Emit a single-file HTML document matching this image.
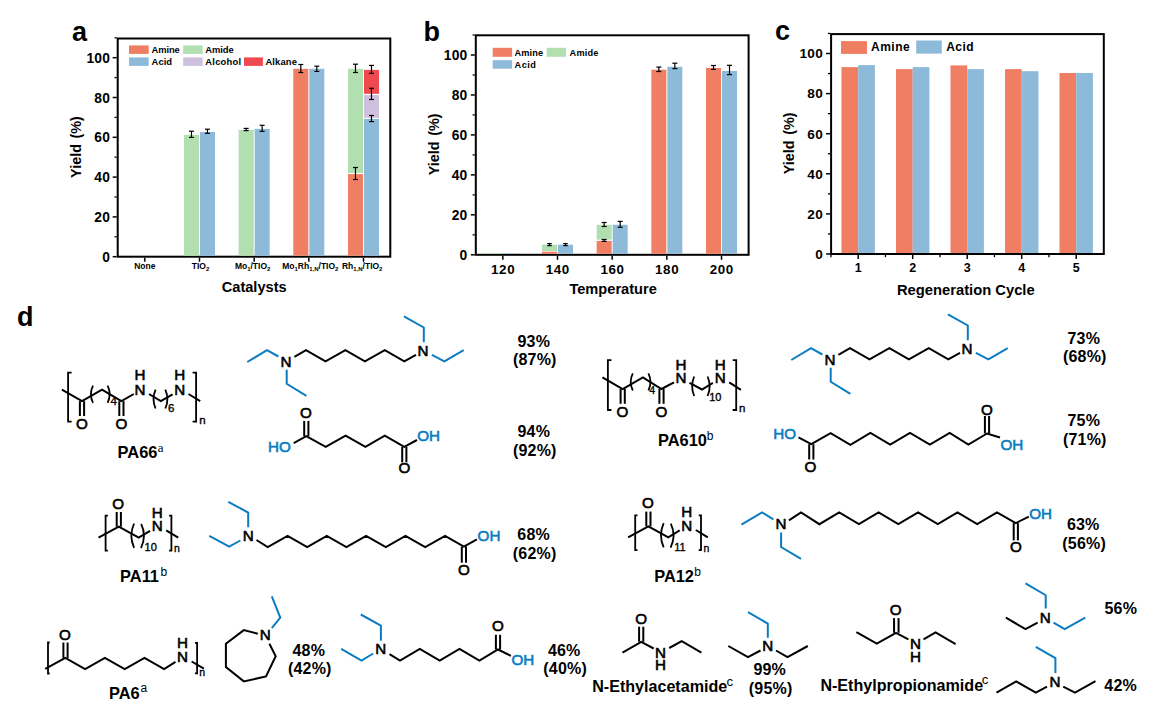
<!DOCTYPE html>
<html><head><meta charset="utf-8"><style>
html,body{margin:0;padding:0;background:#fff;}
svg{display:block;font-family:'Liberation Sans', sans-serif;}
</style></head><body>
<svg width="1157" height="707" viewBox="0 0 1157 707">
<rect x="0" y="0" width="1157" height="707" fill="#fff"/>
<text x="72.00" y="41.00" font-size="27" font-weight="bold" text-anchor="start" fill="#000" >a</text>
<text x="423.50" y="41.00" font-size="27" font-weight="bold" text-anchor="start" fill="#000" >b</text>
<text x="775.00" y="40.40" font-size="27" font-weight="bold" text-anchor="start" fill="#000" >c</text>
<text x="17.00" y="326.00" font-size="27" font-weight="bold" text-anchor="start" fill="#000" >d</text>
<rect x="117.70" y="38.50" width="272.60" height="218.20" fill="none" stroke="#000" stroke-width="2.0"/>
<line x1="112.70" y1="256.70" x2="116.70" y2="256.70" stroke="#000" stroke-width="1.5" stroke-linecap="butt"/>
<line x1="112.70" y1="216.90" x2="116.70" y2="216.90" stroke="#000" stroke-width="1.5" stroke-linecap="butt"/>
<line x1="112.70" y1="177.10" x2="116.70" y2="177.10" stroke="#000" stroke-width="1.5" stroke-linecap="butt"/>
<line x1="112.70" y1="137.30" x2="116.70" y2="137.30" stroke="#000" stroke-width="1.5" stroke-linecap="butt"/>
<line x1="112.70" y1="97.50" x2="116.70" y2="97.50" stroke="#000" stroke-width="1.5" stroke-linecap="butt"/>
<line x1="112.70" y1="57.70" x2="116.70" y2="57.70" stroke="#000" stroke-width="1.5" stroke-linecap="butt"/>
<line x1="114.50" y1="236.80" x2="116.70" y2="236.80" stroke="#000" stroke-width="1.3" stroke-linecap="butt"/>
<line x1="114.50" y1="197.00" x2="116.70" y2="197.00" stroke="#000" stroke-width="1.3" stroke-linecap="butt"/>
<line x1="114.50" y1="157.20" x2="116.70" y2="157.20" stroke="#000" stroke-width="1.3" stroke-linecap="butt"/>
<line x1="114.50" y1="117.40" x2="116.70" y2="117.40" stroke="#000" stroke-width="1.3" stroke-linecap="butt"/>
<line x1="114.50" y1="77.60" x2="116.70" y2="77.60" stroke="#000" stroke-width="1.3" stroke-linecap="butt"/>
<line x1="114.50" y1="37.80" x2="116.70" y2="37.80" stroke="#000" stroke-width="1.3" stroke-linecap="butt"/>
<line x1="144.80" y1="257.70" x2="144.80" y2="261.70" stroke="#000" stroke-width="1.5" stroke-linecap="butt"/>
<line x1="199.47" y1="257.70" x2="199.47" y2="261.70" stroke="#000" stroke-width="1.5" stroke-linecap="butt"/>
<line x1="254.14" y1="257.70" x2="254.14" y2="261.70" stroke="#000" stroke-width="1.5" stroke-linecap="butt"/>
<line x1="308.81" y1="257.70" x2="308.81" y2="261.70" stroke="#000" stroke-width="1.5" stroke-linecap="butt"/>
<line x1="363.48" y1="257.70" x2="363.48" y2="261.70" stroke="#000" stroke-width="1.5" stroke-linecap="butt"/>
<text x="110.30" y="261.70" font-size="13.8" font-weight="bold" text-anchor="end" fill="#000" letter-spacing="0.3">0</text>
<text x="110.30" y="221.90" font-size="13.8" font-weight="bold" text-anchor="end" fill="#000" letter-spacing="0.3">20</text>
<text x="110.30" y="182.10" font-size="13.8" font-weight="bold" text-anchor="end" fill="#000" letter-spacing="0.3">40</text>
<text x="110.30" y="142.30" font-size="13.8" font-weight="bold" text-anchor="end" fill="#000" letter-spacing="0.3">60</text>
<text x="110.30" y="102.50" font-size="13.8" font-weight="bold" text-anchor="end" fill="#000" letter-spacing="0.3">80</text>
<text x="110.30" y="62.70" font-size="13.8" font-weight="bold" text-anchor="end" fill="#000" letter-spacing="0.3">100</text>
<rect x="183.97" y="134.90" width="15.00" height="120.80" fill="#B1DFB0"/>
<rect x="199.97" y="132.00" width="15.00" height="123.70" fill="#8EBADA"/>
<rect x="238.64" y="129.90" width="15.00" height="125.80" fill="#B1DFB0"/>
<rect x="254.64" y="128.90" width="15.00" height="126.80" fill="#8EBADA"/>
<rect x="293.31" y="68.80" width="15.00" height="186.90" fill="#F07E62"/>
<rect x="309.31" y="68.80" width="15.00" height="186.90" fill="#8EBADA"/>
<rect x="347.98" y="174.10" width="15.00" height="81.60" fill="#F07E62"/>
<rect x="347.98" y="68.80" width="15.00" height="104.20" fill="#B1DFB0"/>
<rect x="363.98" y="118.90" width="15.00" height="136.80" fill="#8EBADA"/>
<rect x="363.98" y="95.10" width="15.00" height="22.70" fill="#CFC0DD"/>
<rect x="363.98" y="69.90" width="15.00" height="23.90" fill="#F04A51"/>
<line x1="191.47" y1="131.20" x2="191.47" y2="137.40" stroke="#000" stroke-width="1.2" stroke-linecap="butt"/>
<line x1="188.97" y1="131.20" x2="193.97" y2="131.20" stroke="#000" stroke-width="1.2" stroke-linecap="butt"/>
<line x1="188.97" y1="137.40" x2="193.97" y2="137.40" stroke="#000" stroke-width="1.2" stroke-linecap="butt"/>
<line x1="207.47" y1="129.20" x2="207.47" y2="133.30" stroke="#000" stroke-width="1.2" stroke-linecap="butt"/>
<line x1="204.97" y1="129.20" x2="209.97" y2="129.20" stroke="#000" stroke-width="1.2" stroke-linecap="butt"/>
<line x1="204.97" y1="133.30" x2="209.97" y2="133.30" stroke="#000" stroke-width="1.2" stroke-linecap="butt"/>
<line x1="246.14" y1="128.40" x2="246.14" y2="130.60" stroke="#000" stroke-width="1.2" stroke-linecap="butt"/>
<line x1="243.64" y1="128.40" x2="248.64" y2="128.40" stroke="#000" stroke-width="1.2" stroke-linecap="butt"/>
<line x1="243.64" y1="130.60" x2="248.64" y2="130.60" stroke="#000" stroke-width="1.2" stroke-linecap="butt"/>
<line x1="262.14" y1="125.30" x2="262.14" y2="131.40" stroke="#000" stroke-width="1.2" stroke-linecap="butt"/>
<line x1="259.64" y1="125.30" x2="264.64" y2="125.30" stroke="#000" stroke-width="1.2" stroke-linecap="butt"/>
<line x1="259.64" y1="131.40" x2="264.64" y2="131.40" stroke="#000" stroke-width="1.2" stroke-linecap="butt"/>
<line x1="300.81" y1="64.50" x2="300.81" y2="72.50" stroke="#000" stroke-width="1.2" stroke-linecap="butt"/>
<line x1="298.31" y1="64.50" x2="303.31" y2="64.50" stroke="#000" stroke-width="1.2" stroke-linecap="butt"/>
<line x1="298.31" y1="72.50" x2="303.31" y2="72.50" stroke="#000" stroke-width="1.2" stroke-linecap="butt"/>
<line x1="316.81" y1="66.20" x2="316.81" y2="71.40" stroke="#000" stroke-width="1.2" stroke-linecap="butt"/>
<line x1="314.31" y1="66.20" x2="319.31" y2="66.20" stroke="#000" stroke-width="1.2" stroke-linecap="butt"/>
<line x1="314.31" y1="71.40" x2="319.31" y2="71.40" stroke="#000" stroke-width="1.2" stroke-linecap="butt"/>
<line x1="355.48" y1="64.20" x2="355.48" y2="72.50" stroke="#000" stroke-width="1.2" stroke-linecap="butt"/>
<line x1="352.98" y1="64.20" x2="357.98" y2="64.20" stroke="#000" stroke-width="1.2" stroke-linecap="butt"/>
<line x1="352.98" y1="72.50" x2="357.98" y2="72.50" stroke="#000" stroke-width="1.2" stroke-linecap="butt"/>
<line x1="371.48" y1="65.40" x2="371.48" y2="73.40" stroke="#000" stroke-width="1.2" stroke-linecap="butt"/>
<line x1="368.98" y1="65.40" x2="373.98" y2="65.40" stroke="#000" stroke-width="1.2" stroke-linecap="butt"/>
<line x1="368.98" y1="73.40" x2="373.98" y2="73.40" stroke="#000" stroke-width="1.2" stroke-linecap="butt"/>
<line x1="371.48" y1="88.30" x2="371.48" y2="99.50" stroke="#000" stroke-width="1.2" stroke-linecap="butt"/>
<line x1="368.98" y1="88.30" x2="373.98" y2="88.30" stroke="#000" stroke-width="1.2" stroke-linecap="butt"/>
<line x1="368.98" y1="99.50" x2="373.98" y2="99.50" stroke="#000" stroke-width="1.2" stroke-linecap="butt"/>
<line x1="371.48" y1="115.50" x2="371.48" y2="121.60" stroke="#000" stroke-width="1.2" stroke-linecap="butt"/>
<line x1="368.98" y1="115.50" x2="373.98" y2="115.50" stroke="#000" stroke-width="1.2" stroke-linecap="butt"/>
<line x1="368.98" y1="121.60" x2="373.98" y2="121.60" stroke="#000" stroke-width="1.2" stroke-linecap="butt"/>
<line x1="355.48" y1="167.50" x2="355.48" y2="179.50" stroke="#000" stroke-width="1.2" stroke-linecap="butt"/>
<line x1="352.98" y1="167.50" x2="357.98" y2="167.50" stroke="#000" stroke-width="1.2" stroke-linecap="butt"/>
<line x1="352.98" y1="179.50" x2="357.98" y2="179.50" stroke="#000" stroke-width="1.2" stroke-linecap="butt"/>
<rect x="129.00" y="45.40" width="19.70" height="8.50" fill="#F07E62"/>
<text x="151.60" y="53.20" font-size="9.4" font-weight="bold" text-anchor="start" fill="#000" textLength="28.2" lengthAdjust="spacing">Amine</text>
<rect x="183.20" y="45.40" width="19.40" height="8.50" fill="#B1DFB0"/>
<text x="205.30" y="53.20" font-size="9.4" font-weight="bold" text-anchor="start" fill="#000" textLength="28.4" lengthAdjust="spacing">Amide</text>
<rect x="129.00" y="57.40" width="19.70" height="8.50" fill="#8EBADA"/>
<text x="151.60" y="65.20" font-size="9.4" font-weight="bold" text-anchor="start" fill="#000" textLength="20.5" lengthAdjust="spacing">Acid</text>
<rect x="183.20" y="57.40" width="19.40" height="8.50" fill="#CFC0DD"/>
<text x="205.30" y="65.20" font-size="9.4" font-weight="bold" text-anchor="start" fill="#000" textLength="35.8" lengthAdjust="spacing">Alcohol</text>
<rect x="244.00" y="57.40" width="18.90" height="8.50" fill="#F04A51"/>
<text x="265.40" y="65.20" font-size="9.4" font-weight="bold" text-anchor="start" fill="#000" textLength="31.5" lengthAdjust="spacing">Alkane</text>
<text x="144.80" y="268.9" font-size="8.5" font-weight="bold" text-anchor="middle" fill="#000">None</text>
<text x="200.47" y="268.9" font-size="8.5" font-weight="bold" text-anchor="middle" fill="#000">TIO<tspan font-size="6" dy="2">2</tspan></text>
<text x="252.64" y="268.9" font-size="8.5" font-weight="bold" text-anchor="middle" fill="#000">Mo<tspan font-size="6" dy="2">1</tspan><tspan dy="-2">/TIO</tspan><tspan font-size="6" dy="2">2</tspan></text>
<text x="310.31" y="268.9" font-size="8.5" font-weight="bold" text-anchor="middle" fill="#000">Mo<tspan font-size="6" dy="2">1</tspan><tspan dy="-2">Rh</tspan><tspan font-size="6" dy="2">1,N</tspan><tspan dy="-2">/TIO</tspan><tspan font-size="6" dy="2">2</tspan></text>
<text x="362.18" y="268.9" font-size="8.5" font-weight="bold" text-anchor="middle" fill="#000">Rh<tspan font-size="6" dy="2">1,N</tspan><tspan dy="-2">/TIO</tspan><tspan font-size="6" dy="2">2</tspan></text>
<text x="254.20" y="291.90" font-size="14.6" font-weight="bold" text-anchor="middle" fill="#000" >Catalysts</text>
<text transform="translate(81.3,147.0) rotate(-90)" x="0" y="0" font-size="14.4" word-spacing="1.6" font-weight="bold" text-anchor="middle" fill="#000">Yield (%)</text>
<rect x="475.80" y="35.30" width="272.80" height="219.50" fill="none" stroke="#000" stroke-width="2.0"/>
<line x1="470.80" y1="254.80" x2="474.80" y2="254.80" stroke="#000" stroke-width="1.5" stroke-linecap="butt"/>
<line x1="470.80" y1="214.84" x2="474.80" y2="214.84" stroke="#000" stroke-width="1.5" stroke-linecap="butt"/>
<line x1="470.80" y1="174.88" x2="474.80" y2="174.88" stroke="#000" stroke-width="1.5" stroke-linecap="butt"/>
<line x1="470.80" y1="134.92" x2="474.80" y2="134.92" stroke="#000" stroke-width="1.5" stroke-linecap="butt"/>
<line x1="470.80" y1="94.96" x2="474.80" y2="94.96" stroke="#000" stroke-width="1.5" stroke-linecap="butt"/>
<line x1="470.80" y1="55.00" x2="474.80" y2="55.00" stroke="#000" stroke-width="1.5" stroke-linecap="butt"/>
<line x1="472.60" y1="234.82" x2="474.80" y2="234.82" stroke="#000" stroke-width="1.3" stroke-linecap="butt"/>
<line x1="472.60" y1="194.86" x2="474.80" y2="194.86" stroke="#000" stroke-width="1.3" stroke-linecap="butt"/>
<line x1="472.60" y1="154.90" x2="474.80" y2="154.90" stroke="#000" stroke-width="1.3" stroke-linecap="butt"/>
<line x1="472.60" y1="114.94" x2="474.80" y2="114.94" stroke="#000" stroke-width="1.3" stroke-linecap="butt"/>
<line x1="472.60" y1="74.98" x2="474.80" y2="74.98" stroke="#000" stroke-width="1.3" stroke-linecap="butt"/>
<line x1="472.60" y1="35.02" x2="474.80" y2="35.02" stroke="#000" stroke-width="1.3" stroke-linecap="butt"/>
<line x1="502.83" y1="255.80" x2="502.83" y2="259.80" stroke="#000" stroke-width="1.5" stroke-linecap="butt"/>
<line x1="557.50" y1="255.80" x2="557.50" y2="259.80" stroke="#000" stroke-width="1.5" stroke-linecap="butt"/>
<line x1="612.17" y1="255.80" x2="612.17" y2="259.80" stroke="#000" stroke-width="1.5" stroke-linecap="butt"/>
<line x1="666.84" y1="255.80" x2="666.84" y2="259.80" stroke="#000" stroke-width="1.5" stroke-linecap="butt"/>
<line x1="721.51" y1="255.80" x2="721.51" y2="259.80" stroke="#000" stroke-width="1.5" stroke-linecap="butt"/>
<text x="467.60" y="259.80" font-size="13.8" font-weight="bold" text-anchor="end" fill="#000" letter-spacing="0.3">0</text>
<text x="467.60" y="219.84" font-size="13.8" font-weight="bold" text-anchor="end" fill="#000" letter-spacing="0.3">20</text>
<text x="467.60" y="179.88" font-size="13.8" font-weight="bold" text-anchor="end" fill="#000" letter-spacing="0.3">40</text>
<text x="467.60" y="139.92" font-size="13.8" font-weight="bold" text-anchor="end" fill="#000" letter-spacing="0.3">60</text>
<text x="467.60" y="99.96" font-size="13.8" font-weight="bold" text-anchor="end" fill="#000" letter-spacing="0.3">80</text>
<text x="467.60" y="60.00" font-size="13.8" font-weight="bold" text-anchor="end" fill="#000" letter-spacing="0.3">100</text>
<rect x="487.33" y="253.00" width="15.00" height="0.80" fill="#B1DFB0"/>
<rect x="503.33" y="253.20" width="15.00" height="0.60" fill="#8EBADA"/>
<rect x="542.00" y="251.70" width="15.00" height="2.10" fill="#F07E62"/>
<rect x="542.00" y="244.70" width="15.00" height="6.30" fill="#B1DFB0"/>
<rect x="558.00" y="244.70" width="15.00" height="9.10" fill="#8EBADA"/>
<rect x="596.67" y="240.90" width="15.00" height="12.90" fill="#F07E62"/>
<rect x="596.67" y="224.80" width="15.00" height="14.90" fill="#B1DFB0"/>
<rect x="612.67" y="224.80" width="15.00" height="29.00" fill="#8EBADA"/>
<rect x="651.34" y="69.70" width="15.00" height="184.10" fill="#F07E62"/>
<rect x="667.34" y="66.80" width="15.00" height="187.00" fill="#8EBADA"/>
<rect x="706.01" y="67.90" width="15.00" height="185.90" fill="#F07E62"/>
<rect x="722.01" y="71.00" width="15.00" height="182.80" fill="#8EBADA"/>
<line x1="549.50" y1="243.60" x2="549.50" y2="245.60" stroke="#000" stroke-width="1.2" stroke-linecap="butt"/>
<line x1="547.25" y1="243.60" x2="551.75" y2="243.60" stroke="#000" stroke-width="1.2" stroke-linecap="butt"/>
<line x1="547.25" y1="245.60" x2="551.75" y2="245.60" stroke="#000" stroke-width="1.2" stroke-linecap="butt"/>
<line x1="565.50" y1="243.60" x2="565.50" y2="245.60" stroke="#000" stroke-width="1.2" stroke-linecap="butt"/>
<line x1="563.25" y1="243.60" x2="567.75" y2="243.60" stroke="#000" stroke-width="1.2" stroke-linecap="butt"/>
<line x1="563.25" y1="245.60" x2="567.75" y2="245.60" stroke="#000" stroke-width="1.2" stroke-linecap="butt"/>
<line x1="604.17" y1="222.50" x2="604.17" y2="226.50" stroke="#000" stroke-width="1.2" stroke-linecap="butt"/>
<line x1="601.67" y1="222.50" x2="606.67" y2="222.50" stroke="#000" stroke-width="1.2" stroke-linecap="butt"/>
<line x1="601.67" y1="226.50" x2="606.67" y2="226.50" stroke="#000" stroke-width="1.2" stroke-linecap="butt"/>
<line x1="604.17" y1="239.50" x2="604.17" y2="241.40" stroke="#000" stroke-width="1.2" stroke-linecap="butt"/>
<line x1="601.67" y1="239.50" x2="606.67" y2="239.50" stroke="#000" stroke-width="1.2" stroke-linecap="butt"/>
<line x1="601.67" y1="241.40" x2="606.67" y2="241.40" stroke="#000" stroke-width="1.2" stroke-linecap="butt"/>
<line x1="620.17" y1="221.40" x2="620.17" y2="227.30" stroke="#000" stroke-width="1.2" stroke-linecap="butt"/>
<line x1="617.67" y1="221.40" x2="622.67" y2="221.40" stroke="#000" stroke-width="1.2" stroke-linecap="butt"/>
<line x1="617.67" y1="227.30" x2="622.67" y2="227.30" stroke="#000" stroke-width="1.2" stroke-linecap="butt"/>
<line x1="658.84" y1="67.10" x2="658.84" y2="71.50" stroke="#000" stroke-width="1.2" stroke-linecap="butt"/>
<line x1="656.34" y1="67.10" x2="661.34" y2="67.10" stroke="#000" stroke-width="1.2" stroke-linecap="butt"/>
<line x1="656.34" y1="71.50" x2="661.34" y2="71.50" stroke="#000" stroke-width="1.2" stroke-linecap="butt"/>
<line x1="674.84" y1="63.20" x2="674.84" y2="68.60" stroke="#000" stroke-width="1.2" stroke-linecap="butt"/>
<line x1="672.34" y1="63.20" x2="677.34" y2="63.20" stroke="#000" stroke-width="1.2" stroke-linecap="butt"/>
<line x1="672.34" y1="68.60" x2="677.34" y2="68.60" stroke="#000" stroke-width="1.2" stroke-linecap="butt"/>
<line x1="713.51" y1="65.50" x2="713.51" y2="69.40" stroke="#000" stroke-width="1.2" stroke-linecap="butt"/>
<line x1="711.01" y1="65.50" x2="716.01" y2="65.50" stroke="#000" stroke-width="1.2" stroke-linecap="butt"/>
<line x1="711.01" y1="69.40" x2="716.01" y2="69.40" stroke="#000" stroke-width="1.2" stroke-linecap="butt"/>
<line x1="729.51" y1="65.30" x2="729.51" y2="74.60" stroke="#000" stroke-width="1.2" stroke-linecap="butt"/>
<line x1="727.01" y1="65.30" x2="732.01" y2="65.30" stroke="#000" stroke-width="1.2" stroke-linecap="butt"/>
<line x1="727.01" y1="74.60" x2="732.01" y2="74.60" stroke="#000" stroke-width="1.2" stroke-linecap="butt"/>
<rect x="492.70" y="47.80" width="19.40" height="9.00" fill="#F07E62"/>
<text x="514.60" y="55.80" font-size="9.2" font-weight="bold" text-anchor="start" fill="#000" textLength="28.4" lengthAdjust="spacing">Amine</text>
<rect x="546.70" y="47.80" width="19.40" height="9.00" fill="#B1DFB0"/>
<text x="569.60" y="55.80" font-size="9.2" font-weight="bold" text-anchor="start" fill="#000" textLength="28.7" lengthAdjust="spacing">Amide</text>
<rect x="492.70" y="60.20" width="19.40" height="8.50" fill="#8EBADA"/>
<text x="514.60" y="68.20" font-size="9.2" font-weight="bold" text-anchor="start" fill="#000" textLength="21.3" lengthAdjust="spacing">Acid</text>
<text x="503.13" y="274.00" font-size="13.4" font-weight="bold" text-anchor="middle" fill="#000" letter-spacing="0.6">120</text>
<text x="557.80" y="274.00" font-size="13.4" font-weight="bold" text-anchor="middle" fill="#000" letter-spacing="0.6">140</text>
<text x="612.47" y="274.00" font-size="13.4" font-weight="bold" text-anchor="middle" fill="#000" letter-spacing="0.6">160</text>
<text x="667.14" y="274.00" font-size="13.4" font-weight="bold" text-anchor="middle" fill="#000" letter-spacing="0.6">180</text>
<text x="721.81" y="274.00" font-size="13.4" font-weight="bold" text-anchor="middle" fill="#000" letter-spacing="0.6">200</text>
<text x="613.10" y="293.50" font-size="14.6" font-weight="bold" text-anchor="middle" fill="#000" >Temperature</text>
<text transform="translate(439.4,144.4) rotate(-90)" x="0" y="0" font-size="14.4" word-spacing="1.6" font-weight="bold" text-anchor="middle" fill="#000">Yield (%)</text>
<rect x="831.10" y="34.10" width="272.70" height="219.90" fill="none" stroke="#000" stroke-width="2.0"/>
<line x1="826.10" y1="254.00" x2="830.10" y2="254.00" stroke="#000" stroke-width="1.5" stroke-linecap="butt"/>
<line x1="826.10" y1="213.90" x2="830.10" y2="213.90" stroke="#000" stroke-width="1.5" stroke-linecap="butt"/>
<line x1="826.10" y1="173.80" x2="830.10" y2="173.80" stroke="#000" stroke-width="1.5" stroke-linecap="butt"/>
<line x1="826.10" y1="133.70" x2="830.10" y2="133.70" stroke="#000" stroke-width="1.5" stroke-linecap="butt"/>
<line x1="826.10" y1="93.60" x2="830.10" y2="93.60" stroke="#000" stroke-width="1.5" stroke-linecap="butt"/>
<line x1="826.10" y1="53.50" x2="830.10" y2="53.50" stroke="#000" stroke-width="1.5" stroke-linecap="butt"/>
<line x1="827.90" y1="233.95" x2="830.10" y2="233.95" stroke="#000" stroke-width="1.3" stroke-linecap="butt"/>
<line x1="827.90" y1="193.85" x2="830.10" y2="193.85" stroke="#000" stroke-width="1.3" stroke-linecap="butt"/>
<line x1="827.90" y1="153.75" x2="830.10" y2="153.75" stroke="#000" stroke-width="1.3" stroke-linecap="butt"/>
<line x1="827.90" y1="113.65" x2="830.10" y2="113.65" stroke="#000" stroke-width="1.3" stroke-linecap="butt"/>
<line x1="827.90" y1="73.55" x2="830.10" y2="73.55" stroke="#000" stroke-width="1.3" stroke-linecap="butt"/>
<line x1="827.90" y1="33.45" x2="830.10" y2="33.45" stroke="#000" stroke-width="1.3" stroke-linecap="butt"/>
<line x1="858.20" y1="255.00" x2="858.20" y2="259.00" stroke="#000" stroke-width="1.5" stroke-linecap="butt"/>
<line x1="912.70" y1="255.00" x2="912.70" y2="259.00" stroke="#000" stroke-width="1.5" stroke-linecap="butt"/>
<line x1="967.20" y1="255.00" x2="967.20" y2="259.00" stroke="#000" stroke-width="1.5" stroke-linecap="butt"/>
<line x1="1021.70" y1="255.00" x2="1021.70" y2="259.00" stroke="#000" stroke-width="1.5" stroke-linecap="butt"/>
<line x1="1076.20" y1="255.00" x2="1076.20" y2="259.00" stroke="#000" stroke-width="1.5" stroke-linecap="butt"/>
<line x1="885.45" y1="255.00" x2="885.45" y2="257.20" stroke="#000" stroke-width="1.3" stroke-linecap="butt"/>
<line x1="939.95" y1="255.00" x2="939.95" y2="257.20" stroke="#000" stroke-width="1.3" stroke-linecap="butt"/>
<line x1="994.45" y1="255.00" x2="994.45" y2="257.20" stroke="#000" stroke-width="1.3" stroke-linecap="butt"/>
<line x1="1048.95" y1="255.00" x2="1048.95" y2="257.20" stroke="#000" stroke-width="1.3" stroke-linecap="butt"/>
<line x1="830.95" y1="255.00" x2="830.95" y2="257.20" stroke="#000" stroke-width="1.3" stroke-linecap="butt"/>
<text x="823.00" y="258.80" font-size="13.6" font-weight="bold" text-anchor="end" fill="#000" letter-spacing="0.3">0</text>
<text x="823.00" y="218.70" font-size="13.6" font-weight="bold" text-anchor="end" fill="#000" letter-spacing="0.3">20</text>
<text x="823.00" y="178.60" font-size="13.6" font-weight="bold" text-anchor="end" fill="#000" letter-spacing="0.3">40</text>
<text x="823.00" y="138.50" font-size="13.6" font-weight="bold" text-anchor="end" fill="#000" letter-spacing="0.3">60</text>
<text x="823.00" y="98.40" font-size="13.6" font-weight="bold" text-anchor="end" fill="#000" letter-spacing="0.3">80</text>
<text x="823.00" y="58.30" font-size="13.6" font-weight="bold" text-anchor="end" fill="#000" letter-spacing="0.3">100</text>
<rect x="841.50" y="67.10" width="16.70" height="185.90" fill="#F07E62"/>
<rect x="858.20" y="65.10" width="16.70" height="187.90" fill="#8EBADA"/>
<rect x="896.00" y="69.10" width="16.70" height="183.90" fill="#F07E62"/>
<rect x="912.70" y="67.10" width="16.70" height="185.90" fill="#8EBADA"/>
<rect x="950.50" y="65.40" width="16.70" height="187.60" fill="#F07E62"/>
<rect x="967.20" y="69.10" width="16.70" height="183.90" fill="#8EBADA"/>
<rect x="1005.00" y="69.10" width="16.70" height="183.90" fill="#F07E62"/>
<rect x="1021.70" y="71.20" width="16.70" height="181.80" fill="#8EBADA"/>
<rect x="1059.50" y="73.00" width="16.70" height="180.00" fill="#F07E62"/>
<rect x="1076.20" y="73.00" width="16.70" height="180.00" fill="#8EBADA"/>
<rect x="841.00" y="41.10" width="26.00" height="12.80" fill="#F07E62"/>
<text x="871.00" y="50.80" font-size="12.0" font-weight="bold" text-anchor="start" fill="#000" letter-spacing="0.5">Amine</text>
<rect x="916.20" y="40.50" width="25.60" height="13.10" fill="#8EBADA"/>
<text x="946.20" y="50.80" font-size="12.0" font-weight="bold" text-anchor="start" fill="#000" letter-spacing="0.5">Acid</text>
<text x="858.20" y="271.50" font-size="12.5" font-weight="bold" text-anchor="middle" fill="#000" >1</text>
<text x="912.70" y="271.50" font-size="12.5" font-weight="bold" text-anchor="middle" fill="#000" >2</text>
<text x="967.20" y="271.50" font-size="12.5" font-weight="bold" text-anchor="middle" fill="#000" >3</text>
<text x="1021.70" y="271.50" font-size="12.5" font-weight="bold" text-anchor="middle" fill="#000" >4</text>
<text x="1076.20" y="271.50" font-size="12.5" font-weight="bold" text-anchor="middle" fill="#000" >5</text>
<text x="965.80" y="295.30" font-size="14.75" font-weight="bold" text-anchor="middle" fill="#000" >Regeneration Cycle</text>
<text transform="translate(793.6,143.4) rotate(-90)" x="0" y="0" font-size="14.4" word-spacing="1.6" font-weight="bold" text-anchor="middle" fill="#000">Yield (%)</text>
<polyline points="71.60,372.60 68.10,372.60 68.10,421.70 71.60,421.70" fill="none" stroke="#000" stroke-width="1.8" stroke-linejoin="miter" stroke-miterlimit="10"/>
<polyline points="192.60,372.60 196.10,372.60 196.10,421.70 192.60,421.70" fill="none" stroke="#000" stroke-width="1.8" stroke-linejoin="miter" stroke-miterlimit="10"/>
<polyline points="61.90,389.60 82.00,401.20 102.00,389.60 121.40,401.20 133.80,394.00" fill="none" stroke="#000" stroke-width="2.0" stroke-linejoin="miter" stroke-miterlimit="10"/>
<line x1="79.90" y1="401.20" x2="79.90" y2="416.00" stroke="#000" stroke-width="2.0" stroke-linecap="butt"/>
<line x1="84.10" y1="401.20" x2="84.10" y2="416.00" stroke="#000" stroke-width="2.0" stroke-linecap="butt"/>
<line x1="119.30" y1="401.20" x2="119.30" y2="416.00" stroke="#000" stroke-width="2.0" stroke-linecap="butt"/>
<line x1="123.50" y1="401.20" x2="123.50" y2="416.00" stroke="#000" stroke-width="2.0" stroke-linecap="butt"/>
<text x="82.00" y="428.70" font-size="15.2" font-weight="normal" text-anchor="middle" fill="#000" stroke="#000" stroke-width="0.6">O</text>
<text x="121.40" y="428.70" font-size="15.2" font-weight="normal" text-anchor="middle" fill="#000" stroke="#000" stroke-width="0.6">O</text>
<path d="M93.00,385.70 Q88.80,394.25 93.00,402.80" fill="none" stroke="#000" stroke-width="1.8"/>
<path d="M107.60,385.70 Q111.80,394.25 107.60,402.80" fill="none" stroke="#000" stroke-width="1.8"/>
<text x="110.40" y="405.00" font-size="11.5" font-weight="normal" text-anchor="start" fill="#000" stroke="#000" stroke-width="0.35">4</text>
<text x="140.00" y="394.80" font-size="15.2" font-weight="normal" text-anchor="middle" fill="#000" stroke="#000" stroke-width="0.6">N</text>
<text x="140.00" y="380.40" font-size="15.2" font-weight="normal" text-anchor="middle" fill="#000" stroke="#000" stroke-width="0.6">H</text>
<polyline points="149.00,394.00 160.80,401.20 172.60,394.30" fill="none" stroke="#000" stroke-width="2.0" stroke-linejoin="miter" stroke-miterlimit="10"/>
<path d="M155.60,389.70 Q151.40,399.10 155.60,408.50" fill="none" stroke="#000" stroke-width="1.8"/>
<path d="M165.30,389.70 Q169.50,399.10 165.30,408.50" fill="none" stroke="#000" stroke-width="1.8"/>
<text x="168.00" y="412.00" font-size="11.5" font-weight="normal" text-anchor="start" fill="#000" stroke="#000" stroke-width="0.35">6</text>
<text x="179.80" y="394.80" font-size="15.2" font-weight="normal" text-anchor="middle" fill="#000" stroke="#000" stroke-width="0.6">N</text>
<text x="179.80" y="380.30" font-size="15.2" font-weight="normal" text-anchor="middle" fill="#000" stroke="#000" stroke-width="0.6">H</text>
<line x1="188.50" y1="394.00" x2="200.20" y2="401.20" stroke="#000" stroke-width="2.0" stroke-linecap="butt"/>
<text x="199.20" y="424.30" font-size="11.5" font-weight="normal" text-anchor="start" fill="#000" stroke="#000" stroke-width="0.35">n</text>
<text x="117.60" y="457.80" font-size="16.4" font-weight="bold" text-anchor="start" fill="#000" >PA66</text>
<text x="157.8" y="451.8" font-size="13" font-family="Liberation Serif, serif" fill="#000">a</text>
<polyline points="247.30,362.00 267.00,350.20 278.40,356.50" fill="none" stroke="#0B7CC1" stroke-width="2.0" stroke-linejoin="miter" stroke-miterlimit="10"/>
<polyline points="286.70,369.70 286.70,383.80 306.40,395.90" fill="none" stroke="#0B7CC1" stroke-width="2.0" stroke-linejoin="miter" stroke-miterlimit="10"/>
<polyline points="294.40,356.90 306.00,350.20 325.50,361.40 345.40,350.20 364.90,361.40 384.80,350.20 404.30,361.40 416.00,354.80" fill="none" stroke="#000" stroke-width="2.0" stroke-linejoin="miter" stroke-miterlimit="10"/>
<polyline points="423.80,342.30 423.80,327.50 403.90,316.40" fill="none" stroke="#0B7CC1" stroke-width="2.0" stroke-linejoin="miter" stroke-miterlimit="10"/>
<polyline points="431.90,354.80 444.40,361.40 463.70,350.20" fill="none" stroke="#0B7CC1" stroke-width="2.0" stroke-linejoin="miter" stroke-miterlimit="10"/>
<text x="286.00" y="366.80" font-size="15.2" font-weight="normal" text-anchor="middle" fill="#000" stroke="#000" stroke-width="0.6">N</text>
<text x="423.10" y="355.80" font-size="15.2" font-weight="normal" text-anchor="middle" fill="#000" stroke="#000" stroke-width="0.6">N</text>
<text x="533.80" y="346.50" font-size="16" font-weight="bold" text-anchor="middle" fill="#000" letter-spacing="0.2">93%</text>
<text x="534.80" y="365.20" font-size="16" font-weight="bold" text-anchor="middle" fill="#000" letter-spacing="0.2">(87%)</text>
<polyline points="293.70,443.10 306.30,436.10 325.70,446.90 345.60,435.60 365.40,446.90 384.80,435.60 404.30,446.90 417.00,440.00" fill="none" stroke="#000" stroke-width="2.0" stroke-linejoin="miter" stroke-miterlimit="10"/>
<line x1="304.20" y1="420.90" x2="304.20" y2="436.10" stroke="#000" stroke-width="2.0" stroke-linecap="butt"/>
<line x1="308.40" y1="420.90" x2="308.40" y2="436.10" stroke="#000" stroke-width="2.0" stroke-linecap="butt"/>
<line x1="402.20" y1="446.90" x2="402.20" y2="462.40" stroke="#000" stroke-width="2.0" stroke-linecap="butt"/>
<line x1="406.40" y1="446.90" x2="406.40" y2="462.40" stroke="#000" stroke-width="2.0" stroke-linecap="butt"/>
<text x="305.80" y="418.30" font-size="15.2" font-weight="normal" text-anchor="middle" fill="#000" stroke="#000" stroke-width="0.6">O</text>
<text x="404.30" y="473.00" font-size="15.2" font-weight="normal" text-anchor="middle" fill="#000" stroke="#000" stroke-width="0.6">O</text>
<text x="268.00" y="452.00" font-size="15.2" font-weight="normal" text-anchor="start" fill="#0B7CC1" stroke="#0B7CC1" stroke-width="0.6">HO</text>
<text x="417.20" y="441.30" font-size="15.2" font-weight="normal" text-anchor="start" fill="#0B7CC1" stroke="#0B7CC1" stroke-width="0.6">OH</text>
<text x="533.80" y="437.20" font-size="16" font-weight="bold" text-anchor="middle" fill="#000" letter-spacing="0.2">94%</text>
<text x="534.80" y="455.90" font-size="16" font-weight="bold" text-anchor="middle" fill="#000" letter-spacing="0.2">(92%)</text>
<polyline points="611.40,360.20 607.90,360.20 607.90,410.00 611.40,410.00" fill="none" stroke="#000" stroke-width="1.8" stroke-linejoin="miter" stroke-miterlimit="10"/>
<polyline points="732.70,360.20 736.20,360.20 736.20,410.00 732.70,410.00" fill="none" stroke="#000" stroke-width="1.8" stroke-linejoin="miter" stroke-miterlimit="10"/>
<polyline points="602.40,377.30 622.70,389.00 642.90,377.30 661.50,389.00 674.00,382.30" fill="none" stroke="#000" stroke-width="2.0" stroke-linejoin="miter" stroke-miterlimit="10"/>
<line x1="620.60" y1="389.00" x2="620.60" y2="403.80" stroke="#000" stroke-width="2.0" stroke-linecap="butt"/>
<line x1="624.80" y1="389.00" x2="624.80" y2="403.80" stroke="#000" stroke-width="2.0" stroke-linecap="butt"/>
<line x1="659.40" y1="389.00" x2="659.40" y2="403.80" stroke="#000" stroke-width="2.0" stroke-linecap="butt"/>
<line x1="663.60" y1="389.00" x2="663.60" y2="403.80" stroke="#000" stroke-width="2.0" stroke-linecap="butt"/>
<text x="622.30" y="417.00" font-size="15.2" font-weight="normal" text-anchor="middle" fill="#000" stroke="#000" stroke-width="0.6">O</text>
<text x="661.50" y="417.00" font-size="15.2" font-weight="normal" text-anchor="middle" fill="#000" stroke="#000" stroke-width="0.6">O</text>
<path d="M632.80,373.40 Q628.60,381.95 632.80,390.50" fill="none" stroke="#000" stroke-width="1.8"/>
<path d="M648.40,373.40 Q652.60,381.95 648.40,390.50" fill="none" stroke="#000" stroke-width="1.8"/>
<text x="649.60" y="394.40" font-size="10" font-weight="normal" text-anchor="start" fill="#000" stroke="#000" stroke-width="0.35">4</text>
<text x="681.00" y="382.80" font-size="15.2" font-weight="normal" text-anchor="middle" fill="#000" stroke="#000" stroke-width="0.6">N</text>
<text x="681.00" y="369.50" font-size="15.2" font-weight="normal" text-anchor="middle" fill="#000" stroke="#000" stroke-width="0.6">H</text>
<polyline points="689.50,382.80 702.00,389.50 712.90,382.80" fill="none" stroke="#000" stroke-width="2.0" stroke-linejoin="miter" stroke-miterlimit="10"/>
<path d="M694.20,376.50 Q690.00,386.25 694.20,396.00" fill="none" stroke="#000" stroke-width="1.8"/>
<path d="M707.60,376.50 Q711.80,386.25 707.60,396.00" fill="none" stroke="#000" stroke-width="1.8"/>
<text x="709.20" y="400.70" font-size="11" font-weight="normal" text-anchor="start" fill="#000" stroke="#000" stroke-width="0.35">10</text>
<text x="720.30" y="382.80" font-size="15.2" font-weight="normal" text-anchor="middle" fill="#000" stroke="#000" stroke-width="0.6">N</text>
<text x="720.30" y="369.50" font-size="15.2" font-weight="normal" text-anchor="middle" fill="#000" stroke="#000" stroke-width="0.6">H</text>
<line x1="729.20" y1="382.30" x2="740.90" y2="389.80" stroke="#000" stroke-width="2.0" stroke-linecap="butt"/>
<text x="739.00" y="412.30" font-size="11.5" font-weight="normal" text-anchor="start" fill="#000" stroke="#000" stroke-width="0.35">n</text>
<text x="658.00" y="446.10" font-size="16.4" font-weight="bold" text-anchor="start" fill="#000" >PA610</text>
<text x="706.80" y="439.80" font-size="12" font-weight="normal" text-anchor="start" fill="#000" >b</text>
<polyline points="791.30,360.00 811.00,348.20 822.40,354.50" fill="none" stroke="#0B7CC1" stroke-width="2.0" stroke-linejoin="miter" stroke-miterlimit="10"/>
<polyline points="830.70,367.70 830.70,381.80 850.40,393.90" fill="none" stroke="#0B7CC1" stroke-width="2.0" stroke-linejoin="miter" stroke-miterlimit="10"/>
<polyline points="838.40,354.90 850.00,348.20 869.50,359.40 889.40,348.20 908.90,359.40 928.80,348.20 948.30,359.40 960.00,352.80" fill="none" stroke="#000" stroke-width="2.0" stroke-linejoin="miter" stroke-miterlimit="10"/>
<polyline points="967.80,340.30 967.80,325.50 947.90,314.40" fill="none" stroke="#0B7CC1" stroke-width="2.0" stroke-linejoin="miter" stroke-miterlimit="10"/>
<polyline points="975.90,352.80 988.40,359.40 1007.70,348.20" fill="none" stroke="#0B7CC1" stroke-width="2.0" stroke-linejoin="miter" stroke-miterlimit="10"/>
<text x="830.00" y="364.80" font-size="15.2" font-weight="normal" text-anchor="middle" fill="#000" stroke="#000" stroke-width="0.6">N</text>
<text x="967.10" y="353.80" font-size="15.2" font-weight="normal" text-anchor="middle" fill="#000" stroke="#000" stroke-width="0.6">N</text>
<text x="1083.80" y="343.60" font-size="16" font-weight="bold" text-anchor="middle" fill="#000" letter-spacing="0.2">73%</text>
<text x="1084.80" y="362.40" font-size="16" font-weight="bold" text-anchor="middle" fill="#000" letter-spacing="0.2">(68%)</text>
<polyline points="798.50,437.40 811.30,444.20 830.60,433.20 850.40,444.80 870.40,433.00 890.20,444.50 910.00,433.00 929.90,444.50 949.70,433.00 968.40,444.50 987.00,433.50 1000.00,437.50" fill="none" stroke="#000" stroke-width="2.0" stroke-linejoin="miter" stroke-miterlimit="10"/>
<line x1="809.20" y1="444.20" x2="809.20" y2="459.50" stroke="#000" stroke-width="2.0" stroke-linecap="butt"/>
<line x1="813.40" y1="444.20" x2="813.40" y2="459.50" stroke="#000" stroke-width="2.0" stroke-linecap="butt"/>
<line x1="984.90" y1="416.00" x2="984.90" y2="433.50" stroke="#000" stroke-width="2.0" stroke-linecap="butt"/>
<line x1="989.10" y1="416.00" x2="989.10" y2="433.50" stroke="#000" stroke-width="2.0" stroke-linecap="butt"/>
<text x="810.50" y="472.20" font-size="15.2" font-weight="normal" text-anchor="middle" fill="#000" stroke="#000" stroke-width="0.6">O</text>
<text x="987.00" y="415.20" font-size="15.2" font-weight="normal" text-anchor="middle" fill="#000" stroke="#000" stroke-width="0.6">O</text>
<text x="773.30" y="438.50" font-size="15.2" font-weight="normal" text-anchor="start" fill="#0B7CC1" stroke="#0B7CC1" stroke-width="0.6">HO</text>
<text x="1000.50" y="449.60" font-size="15.2" font-weight="normal" text-anchor="start" fill="#0B7CC1" stroke="#0B7CC1" stroke-width="0.6">OH</text>
<text x="1083.80" y="426.00" font-size="16" font-weight="bold" text-anchor="middle" fill="#000" letter-spacing="0.2">75%</text>
<text x="1084.80" y="444.80" font-size="16" font-weight="bold" text-anchor="middle" fill="#000" letter-spacing="0.2">(71%)</text>
<polyline points="107.90,515.70 105.60,515.70 105.60,550.60 107.90,550.60" fill="none" stroke="#000" stroke-width="1.8" stroke-linejoin="miter" stroke-miterlimit="10"/>
<polyline points="169.10,515.70 171.40,515.70 171.40,550.60 169.10,550.60" fill="none" stroke="#000" stroke-width="1.8" stroke-linejoin="miter" stroke-miterlimit="10"/>
<polyline points="98.50,537.70 118.80,526.70 138.70,537.70 150.10,530.80" fill="none" stroke="#000" stroke-width="2.0" stroke-linejoin="miter" stroke-miterlimit="10"/>
<line x1="116.70" y1="526.70" x2="116.70" y2="512.00" stroke="#000" stroke-width="2.0" stroke-linecap="butt"/>
<line x1="120.90" y1="526.70" x2="120.90" y2="512.00" stroke="#000" stroke-width="2.0" stroke-linecap="butt"/>
<text x="118.20" y="508.60" font-size="15.2" font-weight="normal" text-anchor="middle" fill="#000" stroke="#000" stroke-width="0.6">O</text>
<path d="M134.10,523.50 Q128.60,535.60 134.10,547.80" fill="none" stroke="#000" stroke-width="1.8"/>
<path d="M141.20,524.00 Q146.80,535.80 141.00,548.00" fill="none" stroke="#000" stroke-width="1.8"/>
<text x="144.60" y="551.40" font-size="11" font-weight="normal" text-anchor="start" fill="#000" stroke="#000" stroke-width="0.35">10</text>
<text x="157.20" y="531.40" font-size="15.2" font-weight="normal" text-anchor="middle" fill="#000" stroke="#000" stroke-width="0.6">N</text>
<text x="157.20" y="517.60" font-size="15.2" font-weight="normal" text-anchor="middle" fill="#000" stroke="#000" stroke-width="0.6">H</text>
<line x1="166.20" y1="530.40" x2="178.20" y2="537.70" stroke="#000" stroke-width="2.0" stroke-linecap="butt"/>
<text x="174.00" y="552.40" font-size="10.5" font-weight="normal" text-anchor="start" fill="#000" stroke="#000" stroke-width="0.35">n</text>
<text x="120.10" y="582.20" font-size="16.4" font-weight="bold" text-anchor="start" fill="#000" >PA11</text>
<text x="160.40" y="576.00" font-size="12" font-weight="normal" text-anchor="start" fill="#000" >b</text>
<polyline points="637.50,515.30 635.20,515.30 635.20,550.20 637.50,550.20" fill="none" stroke="#000" stroke-width="1.8" stroke-linejoin="miter" stroke-miterlimit="10"/>
<polyline points="698.70,515.30 701.00,515.30 701.00,550.20 698.70,550.20" fill="none" stroke="#000" stroke-width="1.8" stroke-linejoin="miter" stroke-miterlimit="10"/>
<polyline points="628.10,537.30 648.40,526.30 668.30,537.30 679.70,530.40" fill="none" stroke="#000" stroke-width="2.0" stroke-linejoin="miter" stroke-miterlimit="10"/>
<line x1="646.30" y1="526.30" x2="646.30" y2="511.60" stroke="#000" stroke-width="2.0" stroke-linecap="butt"/>
<line x1="650.50" y1="526.30" x2="650.50" y2="511.60" stroke="#000" stroke-width="2.0" stroke-linecap="butt"/>
<text x="647.80" y="508.20" font-size="15.2" font-weight="normal" text-anchor="middle" fill="#000" stroke="#000" stroke-width="0.6">O</text>
<path d="M663.70,523.10 Q658.20,535.20 663.70,547.40" fill="none" stroke="#000" stroke-width="1.8"/>
<path d="M670.80,523.60 Q676.40,535.40 670.60,547.60" fill="none" stroke="#000" stroke-width="1.8"/>
<text x="674.20" y="551.00" font-size="11" font-weight="normal" text-anchor="start" fill="#000" stroke="#000" stroke-width="0.35">11</text>
<text x="686.80" y="531.00" font-size="15.2" font-weight="normal" text-anchor="middle" fill="#000" stroke="#000" stroke-width="0.6">N</text>
<text x="686.80" y="517.20" font-size="15.2" font-weight="normal" text-anchor="middle" fill="#000" stroke="#000" stroke-width="0.6">H</text>
<line x1="695.80" y1="530.00" x2="707.80" y2="537.30" stroke="#000" stroke-width="2.0" stroke-linecap="butt"/>
<text x="703.60" y="552.00" font-size="10.5" font-weight="normal" text-anchor="start" fill="#000" stroke="#000" stroke-width="0.35">n</text>
<text x="654.20" y="582.20" font-size="16.4" font-weight="bold" text-anchor="start" fill="#000" >PA12</text>
<text x="694.20" y="576.00" font-size="12" font-weight="normal" text-anchor="start" fill="#000" >b</text>
<polyline points="209.30,535.80 229.20,546.70 240.40,540.50" fill="none" stroke="#0B7CC1" stroke-width="2.0" stroke-linejoin="miter" stroke-miterlimit="10"/>
<polyline points="248.20,527.20 248.20,512.50 228.30,501.80" fill="none" stroke="#0B7CC1" stroke-width="2.0" stroke-linejoin="miter" stroke-miterlimit="10"/>
<text x="248.20" y="541.20" font-size="15.2" font-weight="normal" text-anchor="middle" fill="#000" stroke="#000" stroke-width="0.6">N</text>
<polyline points="256.50,540.00 267.70,547.10 287.60,535.80 307.20,547.10 326.80,535.80 346.40,547.10 366.10,535.80 385.80,547.10 405.50,535.80 425.20,547.10 445.10,535.80 463.90,546.60 476.90,539.30" fill="none" stroke="#000" stroke-width="2.0" stroke-linejoin="miter" stroke-miterlimit="10"/>
<line x1="461.80" y1="546.60" x2="461.80" y2="562.70" stroke="#000" stroke-width="2.0" stroke-linecap="butt"/>
<line x1="466.00" y1="546.60" x2="466.00" y2="562.70" stroke="#000" stroke-width="2.0" stroke-linecap="butt"/>
<text x="463.90" y="574.60" font-size="15.2" font-weight="normal" text-anchor="middle" fill="#000" stroke="#000" stroke-width="0.6">O</text>
<text x="477.60" y="541.20" font-size="15.2" font-weight="normal" text-anchor="start" fill="#0B7CC1" stroke="#0B7CC1" stroke-width="0.6">OH</text>
<text x="533.60" y="539.90" font-size="16" font-weight="bold" text-anchor="middle" fill="#000" letter-spacing="0.2">68%</text>
<text x="534.60" y="558.70" font-size="16" font-weight="bold" text-anchor="middle" fill="#000" letter-spacing="0.2">(62%)</text>
<polyline points="741.40,524.60 762.10,512.50 773.40,519.40" fill="none" stroke="#0B7CC1" stroke-width="2.0" stroke-linejoin="miter" stroke-miterlimit="10"/>
<polyline points="781.10,532.40 781.10,547.00 801.00,558.80" fill="none" stroke="#0B7CC1" stroke-width="2.0" stroke-linejoin="miter" stroke-miterlimit="10"/>
<text x="781.10" y="528.90" font-size="15.2" font-weight="normal" text-anchor="middle" fill="#000" stroke="#000" stroke-width="0.6">N</text>
<polyline points="788.90,520.30 801.00,512.40 819.40,524.20 839.20,512.40 858.90,524.20 878.60,512.40 898.30,524.20 918.10,512.40 937.80,524.20 957.50,512.40 977.20,524.20 997.00,512.40 1015.80,523.10 1028.80,516.60" fill="none" stroke="#000" stroke-width="2.0" stroke-linejoin="miter" stroke-miterlimit="10"/>
<line x1="1013.70" y1="523.10" x2="1013.70" y2="540.40" stroke="#000" stroke-width="2.0" stroke-linecap="butt"/>
<line x1="1017.90" y1="523.10" x2="1017.90" y2="540.40" stroke="#000" stroke-width="2.0" stroke-linecap="butt"/>
<text x="1015.80" y="552.20" font-size="15.2" font-weight="normal" text-anchor="middle" fill="#000" stroke="#000" stroke-width="0.6">O</text>
<text x="1029.30" y="519.00" font-size="15.2" font-weight="normal" text-anchor="start" fill="#0B7CC1" stroke="#0B7CC1" stroke-width="0.6">OH</text>
<text x="1083.20" y="530.00" font-size="16" font-weight="bold" text-anchor="middle" fill="#000" letter-spacing="0.2">63%</text>
<text x="1084.20" y="549.00" font-size="16" font-weight="bold" text-anchor="middle" fill="#000" letter-spacing="0.2">(56%)</text>
<polyline points="49.60,642.50 48.00,642.50 48.00,673.50 49.60,673.50" fill="none" stroke="#000" stroke-width="1.8" stroke-linejoin="miter" stroke-miterlimit="10"/>
<polyline points="195.00,642.80 197.10,642.80 197.10,673.40 195.00,673.40" fill="none" stroke="#000" stroke-width="1.8" stroke-linejoin="miter" stroke-miterlimit="10"/>
<polyline points="45.20,668.80 65.30,657.80 85.10,669.20 104.90,657.80 124.70,669.20 144.50,657.80 164.10,669.20 175.50,661.80" fill="none" stroke="#000" stroke-width="2.0" stroke-linejoin="miter" stroke-miterlimit="10"/>
<line x1="63.40" y1="642.50" x2="63.40" y2="658.20" stroke="#000" stroke-width="2.0" stroke-linecap="butt"/>
<line x1="67.60" y1="642.50" x2="67.60" y2="658.20" stroke="#000" stroke-width="2.0" stroke-linecap="butt"/>
<text x="65.00" y="639.80" font-size="15.2" font-weight="normal" text-anchor="middle" fill="#000" stroke="#000" stroke-width="0.6">O</text>
<text x="182.60" y="662.40" font-size="15.2" font-weight="normal" text-anchor="middle" fill="#000" stroke="#000" stroke-width="0.6">N</text>
<text x="182.60" y="648.30" font-size="15.2" font-weight="normal" text-anchor="middle" fill="#000" stroke="#000" stroke-width="0.6">H</text>
<line x1="191.60" y1="661.50" x2="203.90" y2="668.70" stroke="#000" stroke-width="2.0" stroke-linecap="butt"/>
<text x="199.20" y="675.90" font-size="10.5" font-weight="normal" text-anchor="start" fill="#000" stroke="#000" stroke-width="0.35">n</text>
<text x="109.00" y="698.50" font-size="16.4" font-weight="bold" text-anchor="start" fill="#000" >PA6</text>
<text x="140.40" y="692.40" font-size="12" font-weight="normal" text-anchor="start" fill="#000" >a</text>
<polyline points="257.80,633.70 243.80,630.10 225.90,643.80 225.90,667.10 243.80,681.40 266.00,676.40 275.70,656.20 269.40,643.80" fill="none" stroke="#000" stroke-width="2.0" stroke-linejoin="miter" stroke-miterlimit="10"/>
<polyline points="271.80,628.20 280.30,617.60 271.80,596.30" fill="none" stroke="#0B7CC1" stroke-width="2.0" stroke-linejoin="miter" stroke-miterlimit="10"/>
<text x="265.20" y="639.90" font-size="15.2" font-weight="normal" text-anchor="middle" fill="#000" stroke="#000" stroke-width="0.6">N</text>
<text x="308.80" y="655.50" font-size="16" font-weight="bold" text-anchor="middle" fill="#000" letter-spacing="0.2">48%</text>
<text x="309.80" y="673.90" font-size="16" font-weight="bold" text-anchor="middle" fill="#000" letter-spacing="0.2">(42%)</text>
<polyline points="341.20,648.80 361.50,660.50 373.20,653.50" fill="none" stroke="#0B7CC1" stroke-width="2.0" stroke-linejoin="miter" stroke-miterlimit="10"/>
<polyline points="380.90,640.70 380.90,625.50 360.80,614.50" fill="none" stroke="#0B7CC1" stroke-width="2.0" stroke-linejoin="miter" stroke-miterlimit="10"/>
<text x="380.80" y="654.20" font-size="15.2" font-weight="normal" text-anchor="middle" fill="#000" stroke="#000" stroke-width="0.6">N</text>
<polyline points="389.50,654.20 400.00,660.50 419.80,648.80 439.70,660.50 459.50,648.80 479.40,660.50 498.00,649.50 510.90,655.80" fill="none" stroke="#000" stroke-width="2.0" stroke-linejoin="miter" stroke-miterlimit="10"/>
<line x1="495.90" y1="634.80" x2="495.90" y2="649.50" stroke="#000" stroke-width="2.0" stroke-linecap="butt"/>
<line x1="500.10" y1="634.80" x2="500.10" y2="649.50" stroke="#000" stroke-width="2.0" stroke-linecap="butt"/>
<text x="498.00" y="631.00" font-size="15.2" font-weight="normal" text-anchor="middle" fill="#000" stroke="#000" stroke-width="0.6">O</text>
<text x="511.50" y="665.20" font-size="15.2" font-weight="normal" text-anchor="start" fill="#0B7CC1" stroke="#0B7CC1" stroke-width="0.6">OH</text>
<text x="564.20" y="655.50" font-size="16" font-weight="bold" text-anchor="middle" fill="#000" letter-spacing="0.2">46%</text>
<text x="565.20" y="673.90" font-size="16" font-weight="bold" text-anchor="middle" fill="#000" letter-spacing="0.2">(40%)</text>
<polyline points="622.50,652.60 641.20,641.80 653.70,648.50" fill="none" stroke="#000" stroke-width="2.0" stroke-linejoin="miter" stroke-miterlimit="10"/>
<line x1="639.10" y1="626.70" x2="639.10" y2="641.80" stroke="#000" stroke-width="2.0" stroke-linecap="butt"/>
<line x1="643.30" y1="626.70" x2="643.30" y2="641.80" stroke="#000" stroke-width="2.0" stroke-linecap="butt"/>
<text x="641.20" y="623.60" font-size="15.2" font-weight="normal" text-anchor="middle" fill="#000" stroke="#000" stroke-width="0.6">O</text>
<text x="660.40" y="657.80" font-size="15.2" font-weight="normal" text-anchor="middle" fill="#000" stroke="#000" stroke-width="0.6">N</text>
<text x="660.40" y="670.20" font-size="15.2" font-weight="normal" text-anchor="middle" fill="#000" stroke="#000" stroke-width="0.6">H</text>
<polyline points="669.20,648.00 681.70,641.20 701.40,652.60" fill="none" stroke="#000" stroke-width="2.0" stroke-linejoin="miter" stroke-miterlimit="10"/>
<text x="592.20" y="691.80" font-size="16.1" font-weight="bold" text-anchor="start" fill="#000" >N-Ethylacetamide</text>
<text x="726.40" y="685.60" font-size="13.2" font-weight="normal" text-anchor="start" fill="#000" >c</text>
<polyline points="728.30,646.00 748.00,657.20 760.50,650.50" fill="none" stroke="#000" stroke-width="2.0" stroke-linejoin="miter" stroke-miterlimit="10"/>
<polyline points="776.00,650.50 787.50,657.20 807.80,646.00" fill="none" stroke="#000" stroke-width="2.0" stroke-linejoin="miter" stroke-miterlimit="10"/>
<polyline points="767.80,637.70 767.80,623.60 748.00,612.20" fill="none" stroke="#0B7CC1" stroke-width="2.0" stroke-linejoin="miter" stroke-miterlimit="10"/>
<text x="767.80" y="650.50" font-size="15.2" font-weight="normal" text-anchor="middle" fill="#000" stroke="#000" stroke-width="0.6">N</text>
<text x="769.70" y="675.20" font-size="16" font-weight="bold" text-anchor="middle" fill="#000" letter-spacing="0.2">99%</text>
<text x="770.70" y="693.90" font-size="16" font-weight="bold" text-anchor="middle" fill="#000" letter-spacing="0.2">(95%)</text>
<polyline points="856.40,632.10 876.80,643.70 896.00,632.80 908.40,639.40" fill="none" stroke="#000" stroke-width="2.0" stroke-linejoin="miter" stroke-miterlimit="10"/>
<line x1="894.05" y1="618.10" x2="894.05" y2="632.80" stroke="#000" stroke-width="2.0" stroke-linecap="butt"/>
<line x1="898.55" y1="618.10" x2="898.55" y2="632.80" stroke="#000" stroke-width="2.0" stroke-linecap="butt"/>
<text x="895.70" y="614.70" font-size="15.2" font-weight="normal" text-anchor="middle" fill="#000" stroke="#000" stroke-width="0.6">O</text>
<text x="915.50" y="648.60" font-size="15.2" font-weight="normal" text-anchor="middle" fill="#000" stroke="#000" stroke-width="0.6">N</text>
<text x="915.50" y="661.80" font-size="15.2" font-weight="normal" text-anchor="middle" fill="#000" stroke="#000" stroke-width="0.6">H</text>
<polyline points="923.50,639.40 935.60,632.40 955.60,644.10" fill="none" stroke="#000" stroke-width="2.0" stroke-linejoin="miter" stroke-miterlimit="10"/>
<text x="820.40" y="690.60" font-size="16.1" font-weight="bold" text-anchor="start" fill="#000" >N-Ethylpropionamide</text>
<text x="981.80" y="684.40" font-size="13.2" font-weight="normal" text-anchor="start" fill="#000" >c</text>
<polyline points="1005.90,617.60 1025.50,629.20 1037.60,622.60" fill="none" stroke="#000" stroke-width="2.0" stroke-linejoin="miter" stroke-miterlimit="10"/>
<polyline points="1053.50,622.60 1064.70,629.20 1085.30,617.60" fill="none" stroke="#0B7CC1" stroke-width="2.0" stroke-linejoin="miter" stroke-miterlimit="10"/>
<polyline points="1045.70,608.60 1045.70,595.20 1025.50,583.40" fill="none" stroke="#0B7CC1" stroke-width="2.0" stroke-linejoin="miter" stroke-miterlimit="10"/>
<text x="1045.30" y="622.60" font-size="15.2" font-weight="normal" text-anchor="middle" fill="#000" stroke="#000" stroke-width="0.6">N</text>
<text x="1120.80" y="614.20" font-size="16" font-weight="bold" text-anchor="middle" fill="#000" letter-spacing="0.2">56%</text>
<polyline points="996.50,692.70 1016.20,681.50 1035.80,692.70 1047.00,686.70" fill="none" stroke="#000" stroke-width="2.0" stroke-linejoin="miter" stroke-miterlimit="10"/>
<polyline points="1063.20,686.70 1075.00,692.70 1095.50,681.10" fill="none" stroke="#000" stroke-width="2.0" stroke-linejoin="miter" stroke-miterlimit="10"/>
<polyline points="1055.40,673.10 1055.40,658.10 1035.80,646.90" fill="none" stroke="#0B7CC1" stroke-width="2.0" stroke-linejoin="miter" stroke-miterlimit="10"/>
<text x="1055.10" y="686.70" font-size="15.2" font-weight="normal" text-anchor="middle" fill="#000" stroke="#000" stroke-width="0.6">N</text>
<text x="1120.60" y="690.80" font-size="16" font-weight="bold" text-anchor="middle" fill="#000" letter-spacing="0.2">42%</text>
</svg>
</body></html>
